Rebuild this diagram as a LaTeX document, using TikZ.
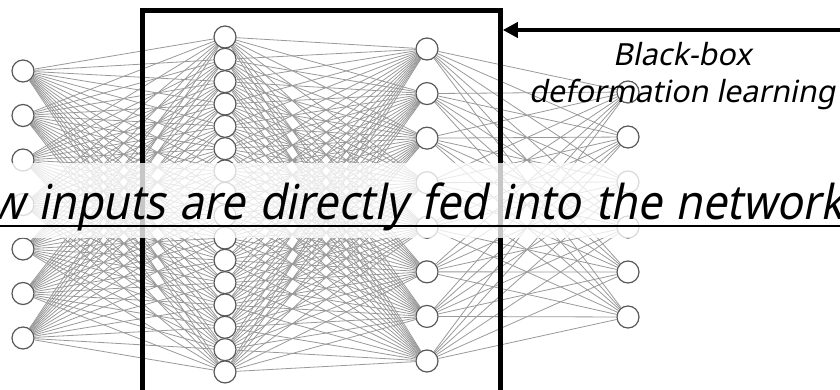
\documentclass[tikz,border=0pt]{standalone}
\usepackage{fontspec}
\setmainfont{Noto Sans}[FakeSlant=0.2]
\newfontfamily\capfont{Noto Sans}[FakeSlant=0.2, FakeStretch=0.9]
\newcommand\widespace{\spaceskip=14pt plus 2pt\relax}
\usetikzlibrary{arrows.meta}
\pgfdeclarelayer{background}
\pgfsetlayers{background,main}
\begin{document}
\begin{tikzpicture}[x=1pt,y=-1pt,
  neuron/.style={circle, draw=black!65, line width=1.2pt, fill=white, minimum size=22pt, inner sep=0pt},
  syn/.style={draw=black!40, line width=0.8pt},
  frame/.style={draw=black, line width=4.5pt, inner sep=0pt, outer sep=0pt},
  veil/.style={fill=white, fill opacity=0.78, inner sep=0pt, outer sep=0pt},
  caption/.style={font=\capfont\fontsize{48}{56}\selectfont, inner sep=0pt},
  note/.style={font=\fontsize{30.5}{36}\selectfont, inner sep=0pt}]
\useasboundingbox (0,0) rectangle (840,390);
\clip (0,0) rectangle (840,390);
% neurons
\foreach \i in {1,...,7} \node[neuron] (a\i) at (23,{71+44.5*(\i-1)}) {};
\foreach \i in {1,...,16} \node[neuron] (b\i) at (225,{37+22.33*(\i-1)}) {};
\foreach \i in {1,...,8} \node[neuron] (c\i) at (427,{49+44.57*(\i-1)}) {};
\foreach \i in {1,...,6} \node[neuron] (d\i) at (628,{92+45*(\i-1)}) {};
% synapses
\begin{pgfonlayer}{background}
\foreach \i in {1,...,7} \foreach \j in {1,...,16} \draw[syn] (a\i) -- (b\j);
\foreach \i in {1,...,16} \foreach \j in {1,...,8} \draw[syn] (b\i) -- (c\j);
\foreach \i in {1,...,8} \foreach \j in {1,...,6} \draw[syn] (c\i) -- (d\j);
\end{pgfonlayer}
% black box
\node[frame, anchor=north west, minimum width=358pt, minimum height=420pt] (bbox) at (142.5,10.5) {};
% veil banner
\node[veil, anchor=north west, minimum width=840pt, minimum height=75pt] (banner) at (0,163) {};
\node[caption, anchor=base west] (cap) at (38,219) {\widespace\llap{Raw }inputs are directly fed into the network};
\coordinate (ulL) at (0,226);
\coordinate (ulR) at (840,226);
\draw[line width=2pt] (ulL) -- (ulR);
% arrow
\coordinate (tail) at (845,30);
\path (bbox.east |- tail) ++(2.3,0) coordinate (hit);
\draw[line width=4.5pt, -{Triangle[length=15pt,width=15pt]}] (tail) -- (hit);
\node[note, anchor=base] (bb1) at (682,66) {Black-box};
\node[note, anchor=base] (bb2) at (682,103) {deformation learning};
\end{tikzpicture}
\end{document}
